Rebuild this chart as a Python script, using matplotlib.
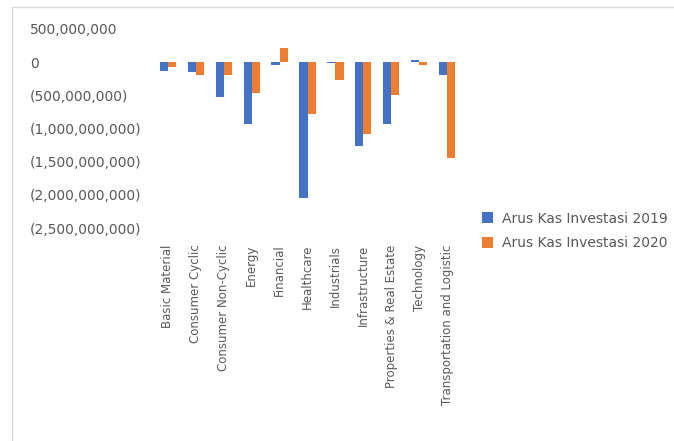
import numpy as np
import matplotlib
matplotlib.use("Agg")
import matplotlib.pyplot as plt
from matplotlib.patches import Rectangle

# ── data ──────────────────────────────────────
sectors = ["Basic Material", "Consumer Cyclic", "Consumer Non-Cyclic", "Energy",
           "Financial", "Healthcare", "Industrials", "Infrastructure",
           "Properties & Real Estate", "Technology", "Transportation and Logistic"]
kas_2019 = [-130e6, -150e6, -530e6, -930e6, -50e6, -2050e6,
            -20e6, -1260e6, -930e6, 30e6, -200e6]
kas_2020 = [-70e6, -200e6, -200e6, -470e6, 220e6, -780e6,
            -270e6, -1080e6, -500e6, -50e6, -1450e6]
series_names = ["Arus Kas Investasi 2019", "Arus Kas Investasi 2020"]
yticks = [500e6, 0, -500e6, -1000e6, -1500e6, -2000e6, -2500e6]

BLUE, ORANGE, TXT = "#4472C4", "#ED7D31", "#595959"

def fmt(v):
    if v == 0:
        return "0"
    s = f"{abs(v):,.0f}"
    return f"({s})" if v < 0 else s

fig = plt.figure(figsize=(6.74, 4.41), dpi=100)
W, H = 674, 441
ax = fig.add_axes([154 / W, 1 - 228 / H, (461 - 154) / W, (228 - 29) / H])

x = np.arange(len(sectors))
bw = 0.29
ax.bar(x - bw / 2, kas_2019, bw, color=BLUE, label=series_names[0])
ax.bar(x + bw / 2, kas_2020, bw, color=ORANGE, label=series_names[1])

ax.set_xlim(-0.5, len(sectors) - 0.5)
ax.set_ylim(-2500e6, 500e6)
ax.set_yticks(yticks)
ax.set_yticklabels([fmt(v) for v in yticks], fontsize=10, color=TXT)
for lbl in ax.get_yticklabels():
    lbl.set_horizontalalignment("left")
ax.tick_params(axis="y", length=0, pad=(154 - 30) * 72 / 100)

ax.set_xticks(x)
ax.set_xticklabels(sectors, rotation=90, fontsize=8.5, color=TXT, va="top", ha="center")
ax.tick_params(axis="x", length=0, pad=12)

for s in ax.spines.values():
    s.set_visible(False)

leg = fig.legend(loc="upper left", bbox_to_anchor=(476 / W, 1 - 206 / H),
                 frameon=False, fontsize=10, handlelength=0.85, handleheight=0.85,
                 handletextpad=0.6, labelspacing=0.75, borderaxespad=0)
for t in leg.get_texts():
    t.set_color(TXT)

# light frame around the chart area
fig.patches.append(Rectangle((12 / W, -0.01), 1.0, 1 - 7 / H + 0.01,
                             transform=fig.transFigure, fill=False,
                             edgecolor="#D9D9D9", linewidth=1.0))

fig.savefig("out.png", dpi=100)
